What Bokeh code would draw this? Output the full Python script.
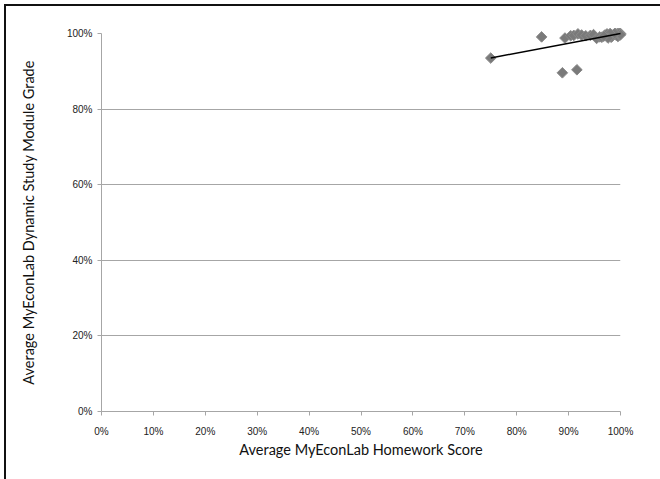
import numpy as np
from bokeh.plotting import figure
from bokeh.models import (Range1d, NumeralTickFormatter, FixedTicker, ColumnDataSource,
                          GlobalInlineStyleSheet)
from bokeh.embed import file_html
from bokeh.resources import INLINE

# Average homework score (x) and dynamic study module grade (y), as fractions
hw_score = [0.750, 0.848, 0.888, 0.916, 0.893, 0.904, 0.910, 0.918, 0.925, 0.933,
            0.942, 0.948, 0.954, 0.960, 0.964, 0.970, 0.974, 0.978, 0.982, 0.984,
            0.987, 0.990, 0.992, 0.994, 0.995, 0.996, 0.998, 1.000, 0.999, 0.997,
            1.000, 0.989, 0.980, 0.976, 0.968]
dsm_grade = [0.935, 0.991, 0.896, 0.904, 0.988, 0.994, 0.995, 0.999, 0.996, 0.994,
             0.995, 0.997, 0.987, 0.991, 0.990, 0.996, 0.999, 0.994, 0.990, 0.993,
             0.998, 1.000, 0.995, 1.000, 0.992, 0.998, 1.000, 1.000, 0.996, 1.000,
             0.997, 1.000, 1.000, 0.988, 0.993]
x_ticks = [0.0, 0.1, 0.2, 0.3, 0.4, 0.5, 0.6, 0.7, 0.8, 0.9, 1.0]
y_ticks = [0.0, 0.2, 0.4, 0.6, 0.8, 1.0]

page_css = GlobalInlineStyleSheet(css="html, body { overflow: hidden; }")

p = figure(width=664, height=476,
           output_backend="svg", toolbar_location=None,
           x_range=Range1d(0, 1), y_range=Range1d(0, 1),
           min_border_left=95, min_border_top=27, min_border_right=50, min_border_bottom=71,
           margin=(6, 0, 0, 6),
           styles={"box-shadow": "-2px -2px 0px 0px #111111"},
           stylesheets=[page_css])
p.outline_line_color = None
p.background_fill_color = "white"
p.border_fill_color = "white"

src = ColumnDataSource(dict(x=hw_score, y=dsm_grade))
p.scatter("x", "y", source=src, marker="square", angle=np.pi / 4, size=7.5,
          fill_color="#7a7a7a", line_color="#8a8a8a", line_width=1, level="overlay")

# linear trend line
xs = np.array(hw_score)
ys = np.array(dsm_grade)
m, b = np.polyfit(xs, ys, 1)
lx = np.array([xs.min(), xs.max()])
p.line(lx, m * lx + b, line_color="black", line_width=1.5, level="overlay")

for ax, ticks in ((p.xaxis[0], x_ticks), (p.yaxis[0], y_ticks)):
    ax.ticker = FixedTicker(ticks=ticks)
    ax.formatter = NumeralTickFormatter(format="0%")
    ax.axis_line_color = "#a6a6a6"
    ax.major_tick_line_color = "#a6a6a6"
    ax.minor_tick_line_color = None
    ax.major_label_text_font = "Liberation Sans"
    ax.major_label_text_font_size = "10px"
    ax.major_label_text_color = "#222222"
    ax.axis_label_text_font = "Lato"
    ax.axis_label_text_font_size = "14.5px"
    ax.axis_label_text_font_style = "normal"
    ax.axis_label_text_color = "#111111"

p.xaxis.axis_label = "Average MyEconLab Homework Score"
p.yaxis.axis_label = "Average MyEconLab Dynamic Study Module Grade"
p.xaxis.major_tick_in = 0
p.xaxis.major_tick_out = 4
p.xaxis.major_label_standoff = 10
p.xaxis.axis_label_standoff = 1
p.yaxis.major_tick_in = 0
p.yaxis.major_tick_out = 4
p.yaxis.major_label_standoff = 5
p.yaxis.axis_label_standoff = 27

p.xgrid.grid_line_color = None
p.ygrid.ticker = FixedTicker(ticks=y_ticks[1:])
p.ygrid.grid_line_color = "#a6a6a6"
p.ygrid.grid_line_width = 1

open("out.html", "w").write(file_html(p, INLINE))
